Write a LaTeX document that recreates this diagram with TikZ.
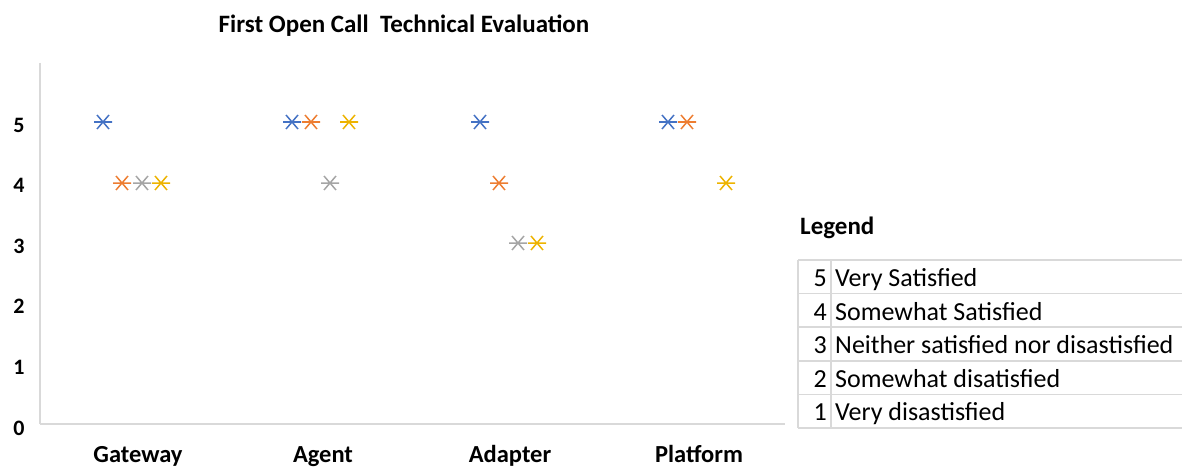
\documentclass[tikz,border=0pt]{standalone}
\usepackage{fontspec}
\setmainfont{Carlito}
\definecolor{sblue}{HTML}{4472C4}
\definecolor{sorange}{HTML}{ED7D31}
\definecolor{sgray}{HTML}{A5A5A5}
\definecolor{syellow}{HTML}{EDB300}
\definecolor{gridgray}{HTML}{D9D9D9}
\tikzset{
  ast/.pic={\draw[line width=1.5pt] (-9,0) -- (9,0) (-6,-7) -- (6,7) (-6,7) -- (6,-7);},
  axislbl/.style={font=\bfseries\fontsize{22}{26}\selectfont, inner sep=0pt, anchor=base},
  catlbl/.style={font=\bfseries\fontsize{24.5}{28}\selectfont, inner sep=0pt, anchor=base},
  legtxt/.style={font=\fontsize{26}{29}\selectfont, inner sep=0pt},
  tline/.style={draw=gridgray, line width=1.5pt}
}
\begin{document}
\begin{tikzpicture}[x=1pt,y=-1pt]
\useasboundingbox (0,0) rectangle (1182,468);
% title
\node[font=\bfseries\fontsize{25}{28}\selectfont, inner sep=0pt, anchor=base] (title) at (404,33) {First Open Call\ \ Technical Evaluation};
% axes
\coordinate (ytop) at (40,63);
\coordinate (ybot) at (40,424);
\coordinate (xr) at (785,424);
\draw[tline] (ytop) -- (ybot);
\draw[tline] (ybot) -- (xr);
% y labels
\foreach \v in {5,4,3,2,1,0}
  \node[axislbl] (y\v) at (19,{132+(5-\v)*60.6}) {\v};
% category labels
\node[catlbl] (cgw) at (138,462) {Gateway};
\node[catlbl] (cag) at (323,462) {Agent};
\node[catlbl] (cad) at (510,462) {Adapter};
\node[catlbl] (cpl) at (699,462) {Platform};
% markers
\pic[color=sblue] at (103,122) {ast};
\pic[color=sorange] at (122,183) {ast};
\pic[color=sgray] at (142,183) {ast};
\pic[color=syellow] at (161,183) {ast};
\pic[color=sblue] at (292,122) {ast};
\pic[color=sorange] at (311,122) {ast};
\pic[color=sgray] at (330,183) {ast};
\pic[color=syellow] at (349,122) {ast};
\pic[color=sblue] at (480,122) {ast};
\pic[color=sorange] at (499,183) {ast};
\pic[color=sgray] at (518,243) {ast};
\pic[color=syellow] at (537,243) {ast};
\pic[color=sblue] at (668,122) {ast};
\pic[color=sorange] at (687,122) {ast};
\pic[color=syellow] at (726,183) {ast};
% legend
\node[font=\bfseries\fontsize{25}{28}\selectfont, inner sep=0pt, anchor=base west] (leg) at (800,234) {Legend};
\foreach \yy in {260,293.6,327.2,360.8,394.4,428}
  \draw[tline] (798,\yy) -- (1182,\yy);
\draw[tline] (798,260) -- (798,428);
\draw[tline] (831,260) -- (831,428);
\foreach \n/\t [count=\i from 0] in {5/Very Satisfied,4/Somewhat Satisfied,3/Neither satisfied nor disastisfied,2/Somewhat disatisfied,1/Very disastisfied}{
  \node[legtxt, anchor=base east] (n\n) at (827,{286.5+\i*33.6}) {\n};
  \node[legtxt, anchor=base west] (t\n) at (835,{286.5+\i*33.6}) {\t};
}
\end{tikzpicture}
\end{document}
